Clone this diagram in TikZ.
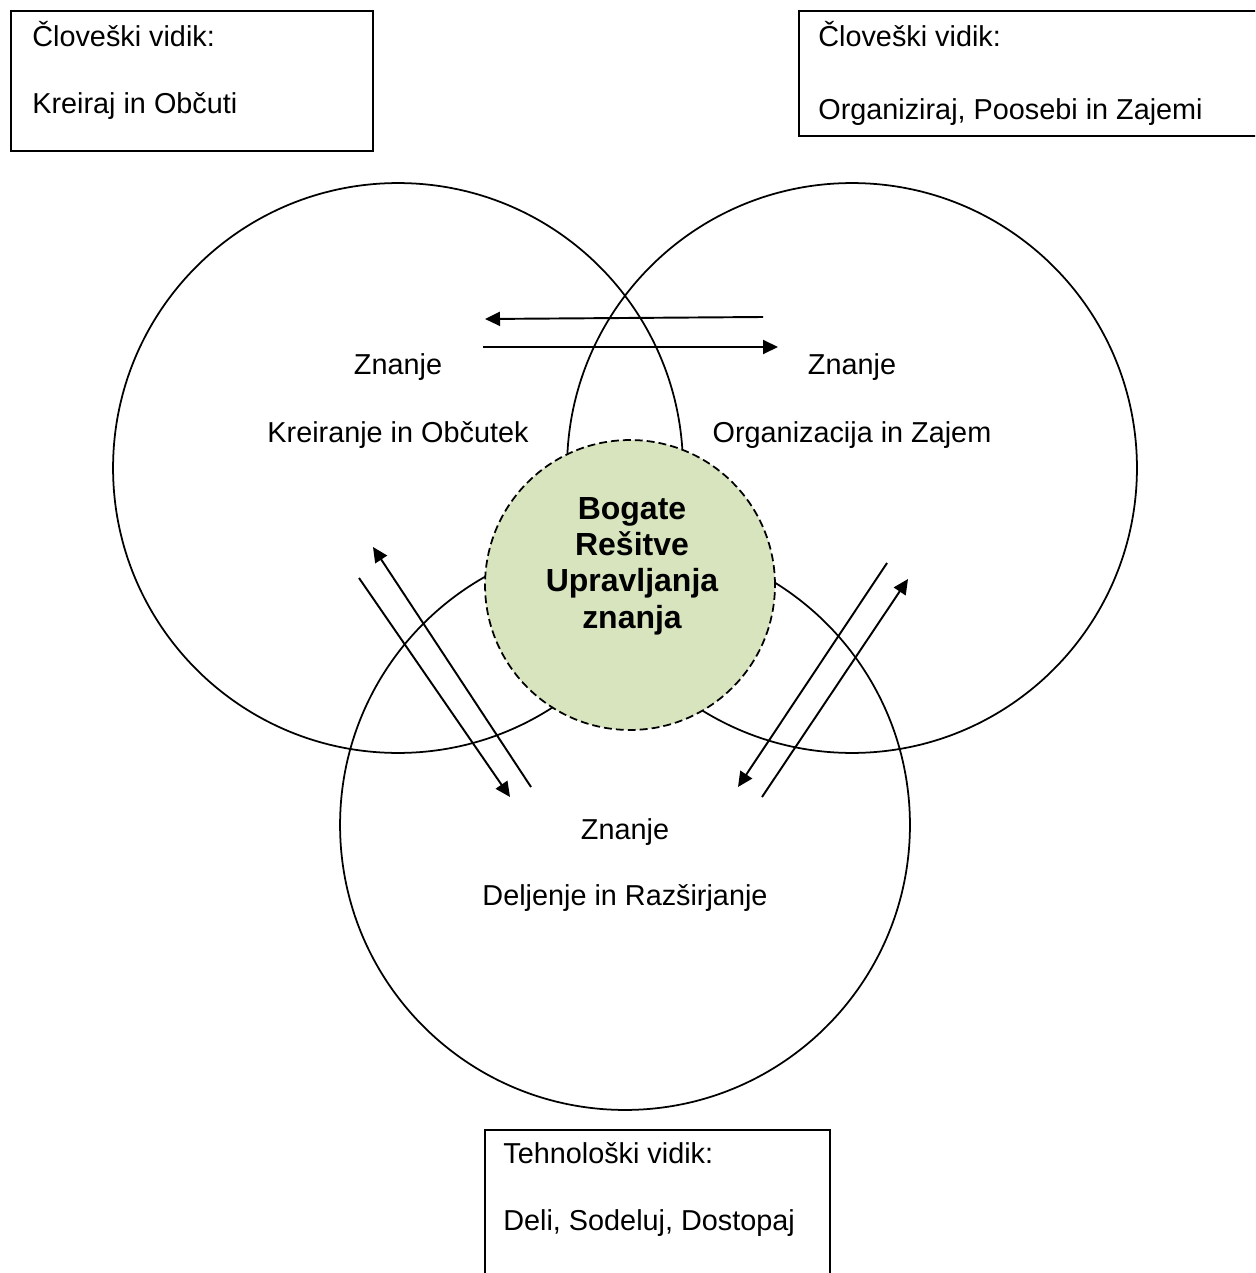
\documentclass[tikz,border=0pt]{standalone}
\usepackage{fontspec}
\setmainfont{Liberation Sans}
\usetikzlibrary{arrows.meta}
\definecolor{sage}{RGB}{215,228,189}

\begin{document}
\begin{tikzpicture}[x=0.02cm,y=-0.02cm,
  every node/.style={font=\fontsize{16.4}{20}\selectfont},
  ring/.style={circle, draw, line width=1pt, minimum size=11.4cm, inner sep=0pt},
  core/.style={circle, draw, dashed, dash pattern=on 4.5pt off 2.3pt, line width=1pt,
    fill=sage, minimum size=5.8cm, inner sep=0pt},
  coretext/.style={align=center, inner sep=0pt,
    font=\fontsize{18.2}{20.7}\selectfont\bfseries},
  framebox/.style={draw, line width=1pt, inner sep=0pt, anchor=north west},
  lbl/.style={anchor=base west, inner sep=0pt},
  clbl/.style={anchor=base, inner sep=0pt},
  flow/.style={line width=1.1pt, -{Triangle[length=0.3cm,width=0.28cm]}},
  bar/.style={line width=1.1pt}]

\clip (0,0) rectangle (1255,1273);

% three knowledge circles
\node[ring] (create) at (398,468) {};
\node[ring] (organize) at (852,468) {};
\node[ring] (share) at (625,825) {};

% centre
\node[core] (rich) at (630,585) {};
\node[coretext] (richtext) at (632,566) {Bogate\\Rešitve\\Upravljanja\\znanja};

% circle labels
\node[clbl] (zc) at (398,375) {Znanje};
\node[clbl] (kc) at (398,442) {Kreiranje in Občutek};
\node[clbl] (zo) at (852,375) {Znanje};
\node[clbl] (ko) at (852,442) {Organizacija in Zajem};
\node[clbl] (zs) at (625,839) {Znanje};
\node[clbl] (ks) at (625,905) {Deljenje in Razširjanje};

% aspect boxes
\node[framebox, minimum width=7.24cm, minimum height=2.8cm] (boxA) at (10,10) {};
\node[lbl] (boxAt) at (32,47) {Človeški vidik:};
\node[lbl] (boxAs) at (32,114) {Kreiraj in Občuti};

\node[framebox, minimum width=9.8cm, minimum height=2.5cm] (boxB) at (798,10) {};
\node[lbl] (boxBt) at (818,47) {Človeški vidik:};
\node[lbl] (boxBs) at (818,120) {Organiziraj, Poosebi in Zajemi};

\node[framebox, minimum width=6.9cm, minimum height=3.4cm] (boxC) at (484,1129) {};
\node[lbl] (boxCt) at (503,1163) {Tehnološki vidik:};
\node[lbl] (boxCs) at (503,1230) {Deli, Sodeluj, Dostopaj};

% arrow end points
\coordinate (t1s) at (763,317);
\coordinate (t1e) at (485,319);
\coordinate (t2s) at (483,347);
\coordinate (t2e) at (778,347);
\coordinate (l1s) at (531,787);
\coordinate (l1e) at (373,547);
\coordinate (l2s) at (359,578);
\coordinate (l2e) at (510,797);
\coordinate (r1s) at (887,563);
\coordinate (r1e) at (738,787);
\coordinate (r2s) at (762,797);
\coordinate (r2e) at (908,579);

\draw[flow] (t1s) -- (t1e);
\draw[flow] (t2s) -- (t2e);
\draw[flow] (l1s) -- (l1e);
\draw[flow] (l2s) -- (l2e);
\draw[flow] (r1s) -- (r1e);
\draw[flow] (r2s) -- (r2e);
\end{tikzpicture}
\end{document}
